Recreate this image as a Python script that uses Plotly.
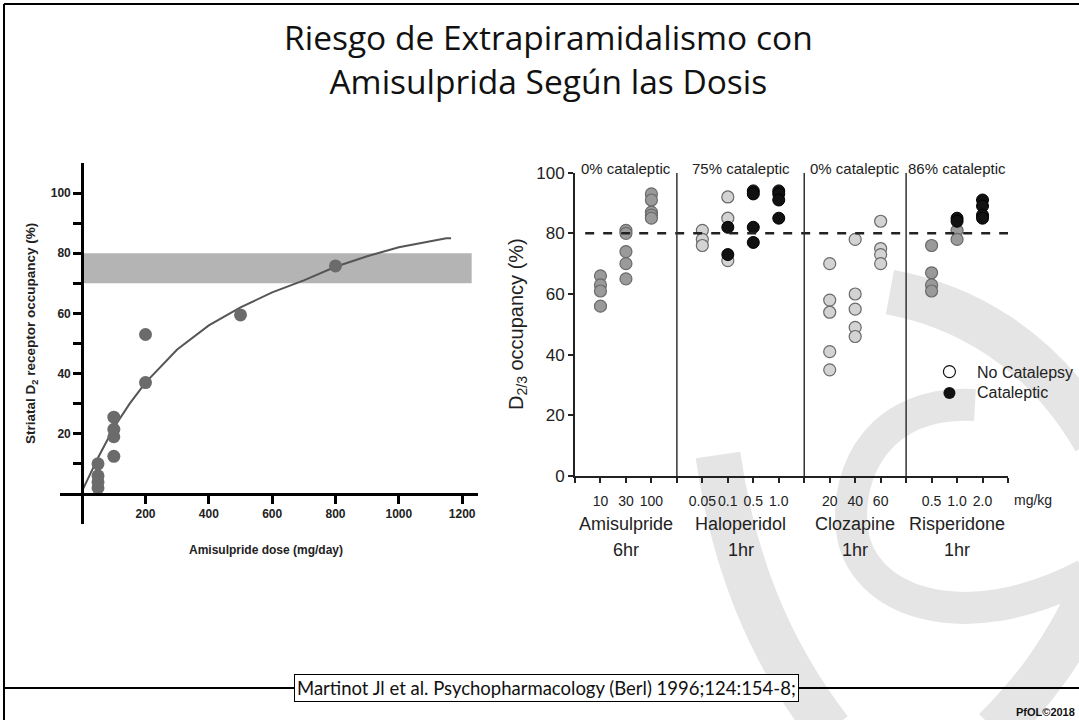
import plotly.graph_objects as go

W, H = 1079, 720

# ---------------- left chart data (Martinot 1996) ----------------
dose_pts = [50, 50, 50, 50, 100, 100, 100, 100, 200, 200, 500, 800]
occ_pts = [10, 6, 4, 2, 25.5, 21.5, 19, 12.5, 53, 37, 59.5, 75.8]
fit_dose = [0, 50, 100, 150, 200, 300, 400, 500, 600, 700, 800, 900, 1000, 1100, 1150, 1165]
fit_occ = [1, 12, 22, 30, 37, 48, 56, 62, 67, 71, 75.5, 79, 82, 84, 85, 85]
band_lo, band_hi = 70, 80
left_xticks = [200, 400, 600, 800, 1000, 1200]
left_yticks = [20, 40, 60, 80, 100]
left_yminor = [10, 30, 50, 70, 90]

# ---------------- right chart data ----------------
drugs = ["Amisulpride", "Haloperidol", "Clozapine", "Risperidone"]
drug_times = ["6hr", "1hr", "1hr", "1hr"]
cataleptic_pct = ["0% cataleptic", "75% cataleptic", "0% cataleptic", "86% cataleptic"]
dose_labels = [["10", "30", "100"], ["0.05", "0.1", "0.5", "1.0"], ["20", "40", "60"], ["0.5", "1.0", "2.0"]]
no_catalepsy = [
    [[66, 63, 61, 56], [81, 80, 74, 70, 65], [93, 91, 87, 86, 85]],
    [[81, 78, 76], [92, 85, 71], [], []],
    [[70, 58, 54, 41, 35], [78, 60, 55, 49, 46], [84, 75, 73, 70]],
    [[76, 67, 63, 61], [81, 78], []],
]
cataleptic = [
    [[], [], []],
    [[], [82, 73], [94, 93, 82, 77], [94, 93, 91, 85]],
    [[], [], []],
    [[], [85, 84], [91, 89, 86, 85]],
]
nocat_fill = ["#9a9a9a", "#d3d3d3", "#d3d3d3", "#9a9a9a"]
threshold = 80


def px(x):
    return x / W


def py(y):
    return 1 - y / H


fig = go.Figure()

# left chart
fig.add_trace(go.Scatter(x=fit_dose, y=fit_occ, mode="lines", line=dict(color="#555555", width=2),
                         showlegend=False, xaxis="x", yaxis="y"))
fig.add_trace(go.Scatter(x=dose_pts, y=occ_pts, mode="markers",
                         marker=dict(size=13, color="#6b6b6b"), showlegend=False, xaxis="x", yaxis="y"))

# right chart: slot positions for each dose, with a divider slot between drugs
slot = 1
dividers, centers, tickvals, ticktext = [], [], [], []
for d, labels in enumerate(dose_labels):
    xs = list(range(slot, slot + len(labels)))
    centers.append(sum(xs) / len(xs))
    for i, lab in enumerate(labels):
        tickvals.append(xs[i])
        ticktext.append(lab)
        if no_catalepsy[d][i]:
            fig.add_trace(go.Scatter(
                x=[xs[i]] * len(no_catalepsy[d][i]), y=no_catalepsy[d][i], mode="markers",
                marker=dict(size=12, color=nocat_fill[d], line=dict(color="#6a6a6a", width=1.2)),
                showlegend=False, xaxis="x2", yaxis="y2"))
        if cataleptic[d][i]:
            fig.add_trace(go.Scatter(
                x=[xs[i]] * len(cataleptic[d][i]), y=cataleptic[d][i], mode="markers",
                marker=dict(size=12, color="#111111", line=dict(color="#000000", width=1)),
                showlegend=False, xaxis="x2", yaxis="y2"))
    slot += len(labels)
    dividers.append(slot)
    slot += 1
x_end = dividers.pop()
minor_x = [0] + dividers + [x_end]

# legend symbols
fig.add_trace(go.Scatter(x=[14.7], y=[34.4], mode="markers",
                         marker=dict(size=12, color="white", line=dict(color="#111", width=1.2)),
                         showlegend=False, xaxis="x2", yaxis="y2"))
fig.add_trace(go.Scatter(x=[14.7], y=[27.4], mode="markers",
                         marker=dict(size=12, color="#111"), showlegend=False, xaxis="x2", yaxis="y2"))

# ---------------- axes ----------------
lx_dom = [px(60), px(478)]
ly_dom = [py(524), py(163)]
lx_range = [-70, 1250]
ly_range = [-10, 110]
yaxis_pos = lx_dom[0] + (0 - lx_range[0]) / (lx_range[1] - lx_range[0]) * (lx_dom[1] - lx_dom[0])
xaxis_pos = ly_dom[0] + (0 - ly_range[0]) / (ly_range[1] - ly_range[0]) * (ly_dom[1] - ly_dom[0])

arial = "Liberation Sans"
bold12 = dict(family=arial, size=12, color="#222", weight="bold")
left_tick = dict(ticks="outside", ticklen=8, tickwidth=2.5, tickcolor="black")
right_tick = dict(ticks="outside", ticklen=5, tickwidth=1.5, tickcolor="#222")

fig.update_layout(
    width=W, height=H, margin=dict(l=0, r=0, t=0, b=0, autoexpand=False),
    paper_bgcolor="white", plot_bgcolor="rgba(0,0,0,0)", showlegend=False,
    xaxis=dict(domain=lx_dom, range=lx_range, anchor="free", position=xaxis_pos,
               showline=True, linecolor="black", linewidth=3, tickvals=left_xticks, tickfont=bold12,
               showgrid=False, zeroline=False, automargin=False, **left_tick),
    yaxis=dict(domain=ly_dom, range=ly_range, anchor="free", position=yaxis_pos,
               showline=True, linecolor="black", linewidth=3, tickvals=left_yticks, tickfont=bold12,
               minor=dict(tickvals=left_yminor, **left_tick),
               showgrid=False, zeroline=False, automargin=False, **left_tick),
    xaxis2=dict(domain=[px(575), px(1008)], range=[0, x_end], anchor="y2",
                showline=True, linecolor="#222", linewidth=2, tickvals=tickvals, ticktext=ticktext,
                tickangle=0, tickfont=dict(family=arial, size=14, color="#222"), ticklabelstandoff=6,
                minor=dict(tickvals=minor_x, **right_tick),
                showgrid=False, zeroline=False, automargin=False, **right_tick),
    yaxis2=dict(domain=[py(476), py(172.7)], range=[0, 100], anchor="x2",
                showline=True, linecolor="#222", linewidth=2, tickvals=[0, 20, 40, 60, 80, 100],
                tickfont=dict(family=arial, size=17, color="#222"),
                showgrid=False, zeroline=False, automargin=False, **right_tick),
)

shapes = [
    dict(type="rect", xref="x", yref="y", x0=0, x1=1230, y0=band_lo, y1=band_hi,
         fillcolor="#b4b4b4", line=dict(width=0), layer="below"),
    dict(type="line", xref="x2", yref="y2", x0=0.4, x1=x_end, y0=threshold, y1=threshold,
         line=dict(color="#222", width=2.5, dash="dash")),
]
for dv in dividers:
    shapes.append(dict(type="line", xref="x2", yref="y2", x0=dv, x1=dv, y0=0, y1=100,
                       line=dict(color="#333", width=1.5)))


# watermark (light grey "C" logo), pixel coordinates -> paper
def wm_path(cmds):
    out = []
    for c in cmds:
        if isinstance(c, str):
            out.append(c)
        else:
            out.append("%.4f,%.4f" % (px(c[0]), py(c[1])))
    return " ".join(out)


wm = [
    (["M", (718, 455), "C", (733, 560), (768, 650), (830, 730)], 45),
    (["M", (890, 292), "C", (960, 305), (1040, 345), (1095, 440)], 45),
    (["M", (1095, 585), "C", (1065, 650), (1035, 690), (995, 730)], 45),
    (["M", (975, 405), "C", (880, 400), (845, 470), (852, 530), "C", (860, 600), (960, 640), (1085, 575)], 32),
]
for cmds, lw in wm:
    shapes.append(dict(type="path", xref="paper", yref="paper", path=wm_path(cmds),
                       line=dict(color="#e5e5e5", width=lw), layer="below"))

# slide frame
shapes += [
    dict(type="line", xref="paper", yref="paper", x0=px(4), x1=px(4), y0=py(4), y1=py(720),
         line=dict(color="black", width=2)),
    dict(type="line", xref="paper", yref="paper", x0=px(4), x1=1, y0=py(4), y1=py(4),
         line=dict(color="black", width=2)),
    dict(type="line", xref="paper", yref="paper", x0=px(4), x1=1, y0=py(688), y1=py(688),
         line=dict(color="black", width=2)),
]
fig.update_layout(shapes=shapes)


def note(text, x, y, size, family=arial, **kw):
    d = dict(text=text, x=x, y=y, xref="paper", yref="paper", showarrow=False,
             xanchor="center", yanchor="middle", font=dict(family=family, size=size, color="#222"))
    d.update(kw)
    return d


ann = [
    note("Riesgo de Extrapiramidalismo con<br>Amisulprida Según las Dosis", px(548), py(59), 33,
         font=dict(family="Open Sans", size=33.5, color="#111")),
    note("Striatal D<sub>2</sub> receptor occupancy (%)", px(31), py(334), 13, textangle=-90,
         font=dict(bold12, size=13.5)),
    note("Amisulpride dose (mg/day)", px(266), py(550), 12, font=bold12),
    note("D<sub>2/3</sub> occupancy (%)", px(518), py(324), 20, textangle=-90),
    note("mg/kg", px(1033), py(500), 14),
    note("No Catalepsy", px(975), py(372), 16, xanchor="left"),
    note("Cataleptic", px(975), py(393), 16, xanchor="left"),
    note("Martinot Jl et al. Psychopharmacology (Berl) 1996;124:154-8;", px(546), py(688), 18,
         bgcolor="white", bordercolor="black", borderwidth=1, borderpad=2,
         font=dict(family="Lato", size=18.5, color="#111")),
    note("PfOL©2018", px(1077), py(712), 11, xanchor="right",
         font=dict(family=arial, size=11, color="#111", weight="bold")),
]
x2_dom = [px(575), px(1008)]
for c, name, t, cat in zip(centers, drugs, drug_times, cataleptic_pct):
    xc = x2_dom[0] + c / x_end * (x2_dom[1] - x2_dom[0])
    ann.append(note(name, xc, py(524), 18))
    ann.append(note(t, xc, py(550), 18))
    ann.append(note(cat, xc, py(168), 15))
fig.update_layout(annotations=ann)

fig.write_html("out.html", config={"displayModeBar": False},
               post_script="document.body.style.margin='0';")
